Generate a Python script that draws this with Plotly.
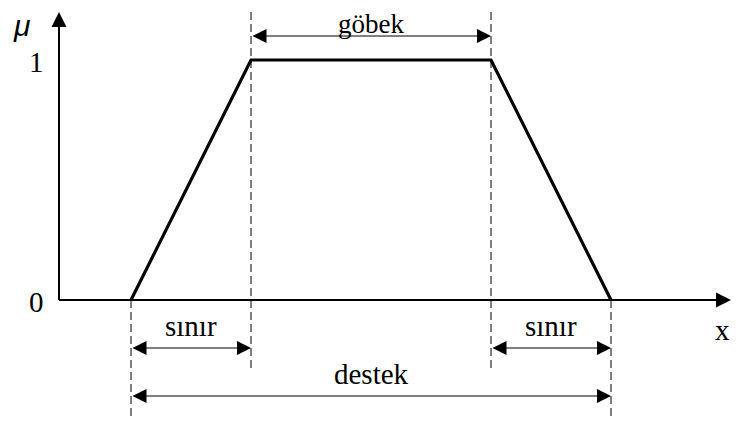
import plotly.graph_objects as go

# trapezoidal membership function: support start, core start, core end, support end
mf_x = [1, 2, 4, 5]
mf_y = [0, 1, 1, 0]

# axis geometry (data units)
axis_origin_x = 0.4
axis_end_x = 6.0
axis_end_y = 1.2

# y tick labels
y_ticks = [0, 1]
y_tick_labels = ["0", "1"]

# dimension labels
core_label = "göbek"
boundary_label = "sınır"
support_label = "destek"
core_level = 1.1
boundary_level = -0.2
support_level = -0.4

FONT = "Liberation Serif"
FS = 29

fig = go.Figure()
fig.add_trace(go.Scatter(x=mf_x, y=mf_y, mode="lines",
                         line=dict(color="black", width=3.2), hoverinfo="skip",
                         showlegend=False))

shapes = []
# axis lines
shapes.append(dict(type="line", x0=axis_origin_x, y0=0, x1=axis_end_x - 0.05, y1=0,
                   line=dict(color="black", width=2)))
shapes.append(dict(type="line", x0=axis_origin_x, y0=0, x1=axis_origin_x, y1=axis_end_y - 0.05,
                   line=dict(color="black", width=2)))
# dashed guide lines
dash = "8px,4px"
shapes.append(dict(type="line", x0=mf_x[0], x1=mf_x[0], y0=0, y1=-0.5,
                   line=dict(color="black", width=1, dash=dash)))
shapes.append(dict(type="line", x0=mf_x[3], x1=mf_x[3], y0=0, y1=-0.5,
                   line=dict(color="black", width=1, dash=dash)))
shapes.append(dict(type="line", x0=mf_x[1], x1=mf_x[1], y0=1.2, y1=-0.3,
                   line=dict(color="black", width=1, dash=dash)))
shapes.append(dict(type="line", x0=mf_x[2], x1=mf_x[2], y0=1.2, y1=-0.3,
                   line=dict(color="black", width=1, dash=dash)))

ann = []
# axis arrowheads
ann.append(dict(x=axis_end_x, y=0, ax=axis_end_x - 0.3, ay=0, xref="x", yref="y",
                axref="x", ayref="y", text="", showarrow=True, arrowhead=2,
                arrowsize=1.5, arrowwidth=2, arrowcolor="black"))
ann.append(dict(x=axis_origin_x, y=axis_end_y, ax=axis_origin_x, ay=axis_end_y - 0.15,
                xref="x", yref="y", axref="x", ayref="y", text="", showarrow=True,
                arrowhead=2, arrowsize=1.5, arrowwidth=2, arrowcolor="black"))


def dim_arrow(x0, x1, y):
    return dict(x=x1, y=y, ax=x0, ay=y, xref="x", yref="y", axref="x", ayref="y",
                text="", showarrow=True, arrowhead=2, startarrowhead=2,
                arrowside="end+start", arrowsize=2.8, startarrowsize=2.8,
                arrowwidth=1, arrowcolor="black")


ann.append(dim_arrow(mf_x[1], mf_x[2], core_level))
ann.append(dim_arrow(mf_x[0], mf_x[1], boundary_level))
ann.append(dim_arrow(mf_x[2], mf_x[3], boundary_level))
ann.append(dim_arrow(mf_x[0], mf_x[3], support_level))


def label(text, x, y, size=FS, family=FONT, xanchor="center", yanchor="middle"):
    return dict(x=x, y=y, xref="x", yref="y", text=text, showarrow=False,
                font=dict(family=family, size=size, color="black"),
                xanchor=xanchor, yanchor=yanchor, borderpad=0)


# page body has an 8px margin on every side: the figure starts at screen pixel (8, 8)
OFF = 8
W, H = 740 - 2 * OFF, 425 - 2 * OFF
x_lo = axis_origin_x + (OFF - 59) / 120
x_hi = axis_origin_x + (740 - OFF - 59) / 120
y_hi = (300 - OFF) / 240
y_lo = (300 - (425 - OFF)) / 240

ann.append(label(core_label, (mf_x[1] + mf_x[2]) / 2, y_hi, size=27, yanchor="top"))
ann.append(label(boundary_label, (mf_x[0] + mf_x[1]) / 2, boundary_level + 0.09))
ann.append(label(boundary_label, (mf_x[2] + mf_x[3]) / 2, boundary_level + 0.09))
ann.append(label(support_label, (mf_x[0] + mf_x[3]) / 2, support_level + 0.09))
for v, t in zip(y_ticks, y_tick_labels):
    ann.append(label(t, axis_origin_x - 0.19, v - 0.01))
ann.append(label("<i>μ</i>", axis_origin_x - 0.31, y_hi, size=30,
                 family="Liberation Sans", yanchor="top"))
ann.append(label("x", x_hi - 0.01, -0.125, xanchor="right"))

fig.update_layout(
    width=W, height=H,
    margin=dict(l=0, r=0, t=0, b=0),
    paper_bgcolor="white", plot_bgcolor="white",
    xaxis=dict(range=[x_lo, x_hi], visible=False, fixedrange=True),
    yaxis=dict(range=[y_lo, y_hi], visible=False, fixedrange=True),
    shapes=shapes, annotations=ann,
)

fig.write_html("out.html")
